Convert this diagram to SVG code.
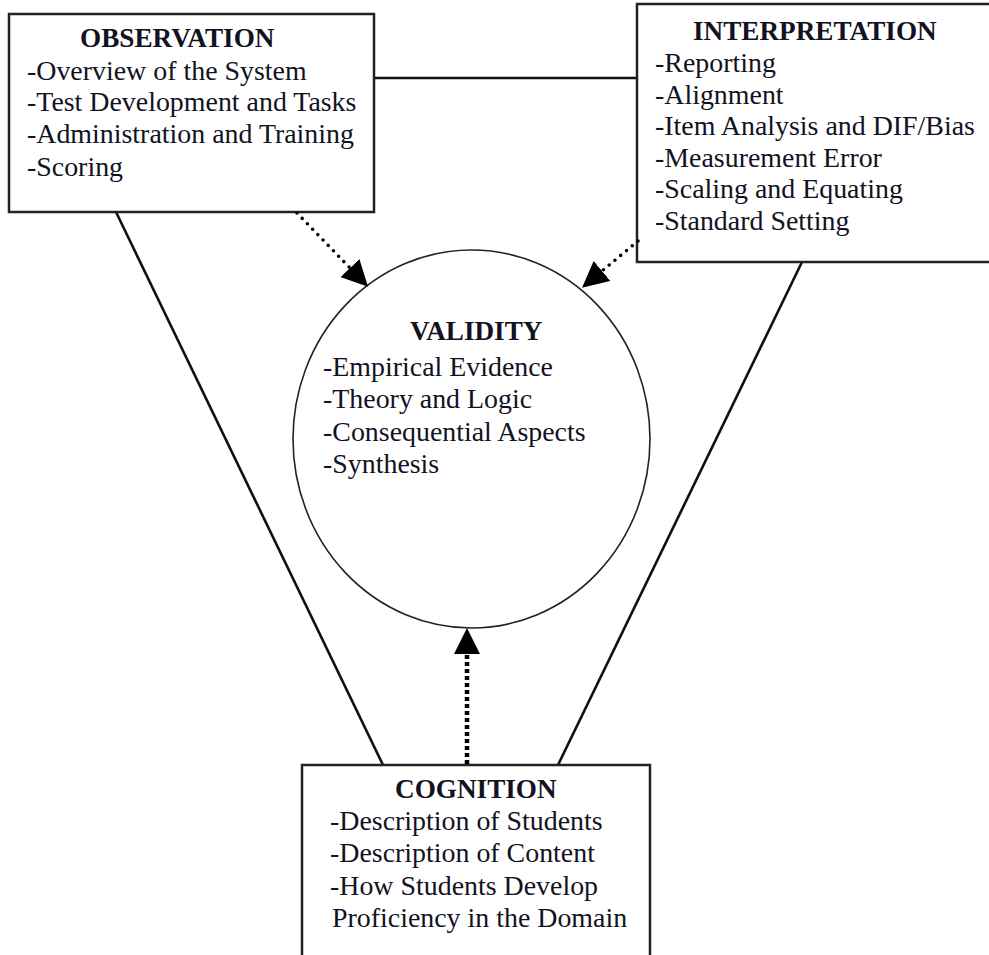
<svg xmlns="http://www.w3.org/2000/svg" width="989" height="955" viewBox="0 0 989 955">
<style>
.box{fill:#fff;stroke:#222;stroke-width:2.5}
.circ{fill:#fff;stroke:#222;stroke-width:1.6}
.solid{stroke:#111;stroke-width:2.6;fill:none}
.dots{stroke:#000;stroke-width:3.6;stroke-dasharray:0 7.5;stroke-linecap:round;fill:none}
.vdots{stroke:#000;stroke-width:4.5;stroke-dasharray:4 3;fill:none}
text{font-family:"Liberation Serif","Times New Roman",serif;font-size:27.9px;fill:#121222}
.h{font-weight:bold;font-size:27.2px}
</style>
<defs>
<marker id="ah" viewBox="0 0 10 10" refX="0" refY="5" markerUnits="userSpaceOnUse" markerWidth="26" markerHeight="26" orient="auto">
<path d="M0,0 L10,5 L0,10 z" fill="#000"/>
</marker>
</defs>
<rect width="989" height="955" fill="#fff"/>
<g id="connectors">
<line class="solid" x1="374" y1="78" x2="637" y2="78"/>
<line class="solid" x1="116" y1="212" x2="383" y2="765"/>
<line class="solid" x1="802" y1="262" x2="558" y2="765"/>
</g>
<g id="validity">
<ellipse class="circ" cx="471.5" cy="439" rx="178.5" ry="189"/>
<text class="h" x="410" y="340">VALIDITY</text>
<text x="323" y="376">-Empirical Evidence</text>
<text x="323" y="408">-Theory and Logic</text>
<text x="323" y="441">-Consequential Aspects</text>
<text x="323" y="473">-Synthesis</text>
</g>
<g id="observation">
<rect class="box" x="9" y="14" width="365" height="198"/>
<text class="h" x="80" y="47">OBSERVATION</text>
<text x="27" y="80">-Overview of the System</text>
<text x="27" y="111">-Test Development and Tasks</text>
<text x="27" y="143">-Administration and Training</text>
<text x="27" y="176">-Scoring</text>
</g>
<g id="interpretation">
<rect class="box" x="637" y="4" width="360" height="258"/>
<text class="h" x="693" y="40">INTERPRETATION</text>
<text x="655" y="72">-Reporting</text>
<text x="655" y="104">-Alignment</text>
<text x="655" y="135">-Item Analysis and DIF/Bias</text>
<text x="655" y="167">-Measurement Error</text>
<text x="655" y="198">-Scaling and Equating</text>
<text x="655" y="230">-Standard Setting</text>
</g>
<g id="cognition">
<rect class="box" x="302" y="765" width="348" height="200"/>
<text class="h" x="395" y="798">COGNITION</text>
<text x="330" y="830">-Description of Students</text>
<text x="330" y="862">-Description of Content</text>
<text x="330" y="895">-How Students Develop</text>
<text x="332" y="927">Proficiency in the Domain</text>
</g>
<g id="arrows">
<line class="dots" x1="297" y1="213" x2="350" y2="268" marker-end="url(#ah)"/>
<line class="dots" x1="638" y1="241" x2="602" y2="271" marker-end="url(#ah)"/>
<line class="vdots" x1="467" y1="764" x2="467" y2="654" marker-end="url(#ah)"/>
</g>
</svg>
